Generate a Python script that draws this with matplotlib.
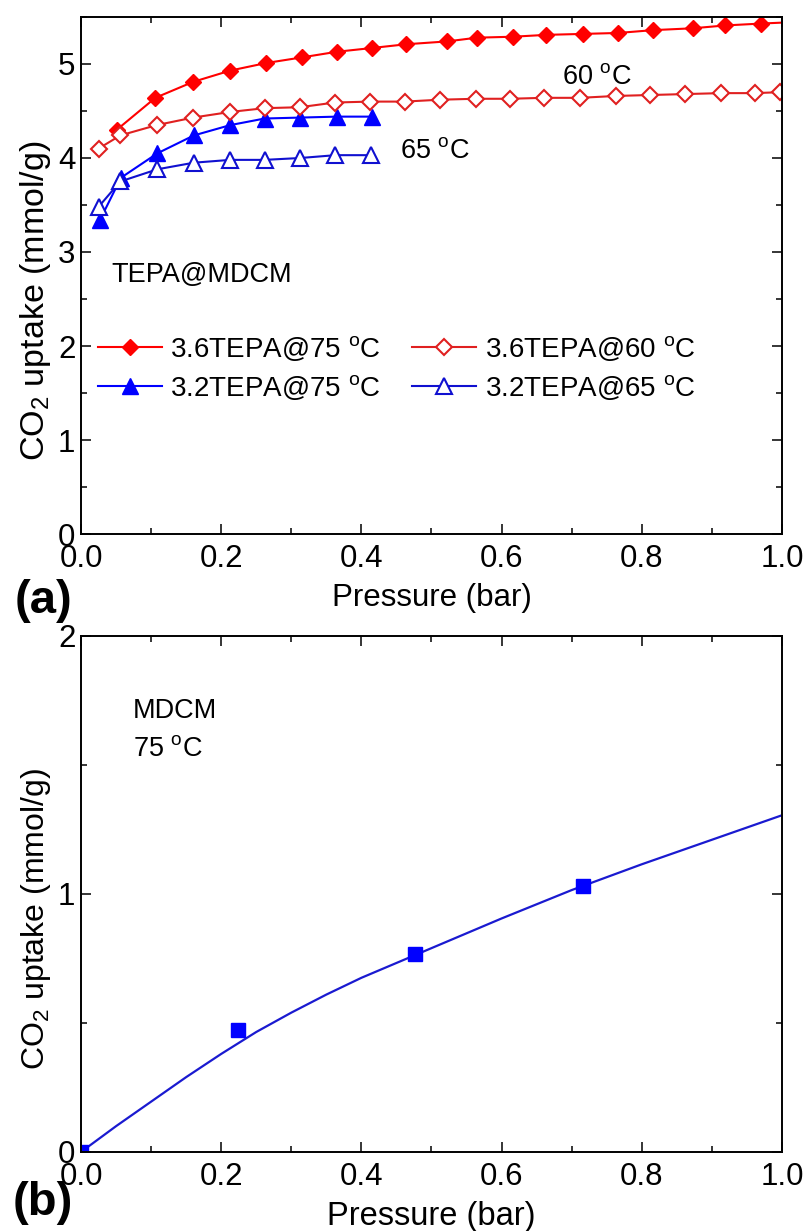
import matplotlib
matplotlib.use("Agg")
import matplotlib.pyplot as plt
from matplotlib.ticker import MultipleLocator

plt.rcParams['font.family'] = ['Liberation Sans', 'DejaVu Sans']
plt.rcParams['mathtext.default'] = 'regular'

# (a) TEPA@MDCM, CO2 uptake (mmol/g) vs pressure (bar)
p_36_75 = [0.051, 0.106, 0.160, 0.213, 0.264, 0.315, 0.365, 0.415, 0.464, 0.522,
           0.565, 0.616, 0.664, 0.716, 0.766, 0.816, 0.873, 0.919, 0.970, 1.03]
q_36_75 = [4.30, 4.64, 4.81, 4.93, 5.01, 5.07, 5.13, 5.17, 5.21, 5.24,
           5.28, 5.29, 5.31, 5.32, 5.33, 5.36, 5.38, 5.41, 5.43, 5.45]

p_36_60 = [0.025, 0.056, 0.108, 0.160, 0.213, 0.262, 0.312, 0.362, 0.412, 0.462, 0.512,
           0.563, 0.612, 0.660, 0.712, 0.763, 0.812, 0.862, 0.913, 0.961, 0.997]
q_36_60 = [4.10, 4.24, 4.35, 4.43, 4.49, 4.53, 4.54, 4.59, 4.60, 4.60, 4.62,
           4.63, 4.63, 4.64, 4.64, 4.66, 4.67, 4.68, 4.69, 4.69, 4.70]

p_32_75 = [0.027, 0.057, 0.109, 0.161, 0.213, 0.262, 0.313, 0.365, 0.415]
q_32_75 = [3.34, 3.79, 4.05, 4.24, 4.35, 4.42, 4.43, 4.44, 4.44]

p_32_65 = [0.025, 0.056, 0.109, 0.161, 0.213, 0.262, 0.313, 0.363, 0.413]
q_32_65 = [3.48, 3.75, 3.88, 3.95, 3.98, 3.98, 4.00, 4.03, 4.03]

p_mdcm = [0.0, 0.224, 0.476, 0.716]
q_mdcm = [0.0, 0.473, 0.767, 1.031]
p_fit = [0.0, 0.05, 0.10, 0.15, 0.20, 0.25, 0.30, 0.35, 0.40, 0.50, 0.60, 0.70, 0.80, 0.90, 1.0]
q_fit = [0.0, 0.10, 0.195, 0.29, 0.38, 0.465, 0.54, 0.61, 0.675, 0.79, 0.905, 1.015, 1.115, 1.21, 1.305]

FS = 22.5
deg = r'$^o$C'


def style_axes(ax, ymax, ymaj, ymin, xl_size, yl_size, ylab_x):
    ax.set_xlim(0, 1.0)
    ax.set_ylim(0, ymax)
    ax.xaxis.set_major_locator(MultipleLocator(0.2))
    ax.xaxis.set_minor_locator(MultipleLocator(0.1))
    ax.yaxis.set_major_locator(MultipleLocator(ymaj))
    ax.yaxis.set_minor_locator(MultipleLocator(ymin))
    ax.tick_params(which='both', direction='in', top=True, right=True, width=1.1, labelsize=FS)
    ax.tick_params(which='major', length=7.5)
    ax.tick_params(which='minor', length=4.5)
    ax.tick_params(axis='x', pad=7)
    ax.tick_params(axis='y', pad=4)
    for s in ax.spines.values():
        s.set_linewidth(1.4)
    ax.set_xlabel('Pressure (bar)', fontsize=xl_size, labelpad=7)
    ax.set_ylabel('CO$_2$ uptake (mmol/g)', fontsize=yl_size)
    ax.yaxis.set_label_coords(ylab_x, 0.452)


fig = plt.figure(figsize=(8.06, 12.31), dpi=100)
ax1 = fig.add_axes([0.1005, 0.5662, 0.8697, 0.4200])
ax2 = fig.add_axes([0.1005, 0.0642, 0.8697, 0.4192])

ax1.plot(p_36_75, q_36_75, '-D', color='red', lw=1.5, ms=8.5, mfc='red', mec='red',
         label='3.6TEPA@75 ' + deg)
ax1.plot(p_32_75, q_32_75, '-^', color='blue', lw=1.5, ms=12, mfc='blue', mec='blue',
         label='3.2TEPA@75 ' + deg)
ax1.plot(p_36_60, q_36_60, '-D', color='#e02020', lw=1.5, ms=8.5, mfc='white', mec='#e02020',
         mew=1.5, label='3.6TEPA@60 ' + deg)
ax1.plot(p_32_65, q_32_65, '-^', color='#1010d0', lw=1.5, ms=12, mfc='white', mec='#1010d0',
         mew=1.5, label='3.2TEPA@65 ' + deg)
style_axes(ax1, 5.5, 1, 0.5, 22.5, 24.5, -0.040)

ax1.legend(loc='upper left', bbox_to_anchor=(0.024, 0.387), ncol=2, frameon=False,
           fontsize=20, handlelength=2.3, handletextpad=0.3, columnspacing=1.15,
           labelspacing=0.35, borderpad=0, borderaxespad=0)
ax1.text(0.686, 4.86, '60 ' + deg, fontsize=19.5, va='center')
ax1.text(0.455, 4.07, '65 ' + deg, fontsize=19.5, va='center')
ax1.text(0.044, 2.76, 'TEPA@MDCM', fontsize=19.5, va='center')

ax2.plot(p_fit, q_fit, '-', color='#1a1ad0', lw=1.6)
ax2.plot(p_mdcm, q_mdcm, 's', color='blue', ms=10.5, ls='none')
style_axes(ax2, 2, 1, 0.5, 23.5, 23, -0.040)
ax2.text(0.074, 1.71, 'MDCM', fontsize=19.5, va='center')
ax2.text(0.074, 1.56, '75 ' + deg, fontsize=19.5, va='center')

fig.text(0.054, 0.512, '(a)', fontsize=34, fontweight='bold', ha='center', va='center')
fig.text(0.053, 0.023, '(b)', fontsize=34, fontweight='bold', ha='center', va='center')

fig.savefig('out.png', dpi=100)
